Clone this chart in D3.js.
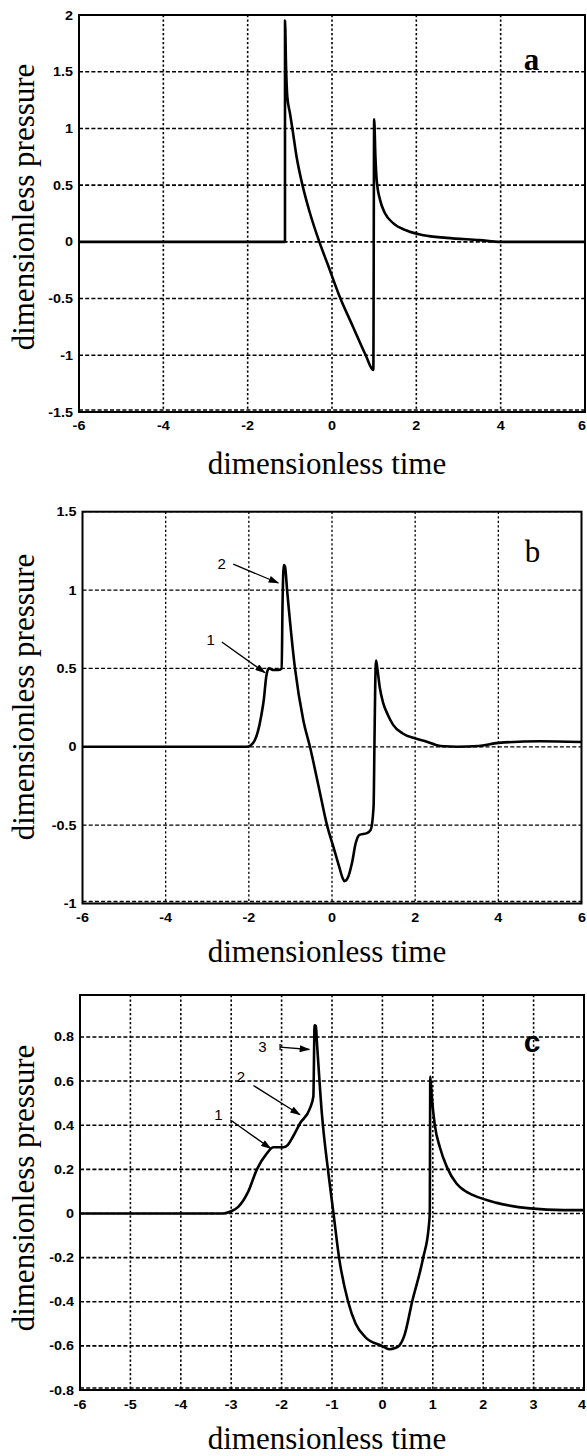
<!DOCTYPE html>
<html>
<head>
<meta charset="utf-8">
<script src="https://cdn.jsdelivr.net/npm/d3@7"></script>
<style>
  html, body { margin: 0; padding: 0; background: #fff; }
  svg { display: block; }
</style>
</head>
<body>
<script>
// ---------------- DATA ----------------
const aTime     = [-6, -1.115, -1.114, -1.09, -1.06, -1.0, -0.94, -0.84, -0.70, -0.52, -0.30, -0.1, 0.2, 0.5, 0.8, 0.98, 1.0, 1.03, 1.06, 1.14, 1.26, 1.45, 1.77, 2.17, 2.72, 3.5, 4.0, 6];
const aPressure = [0, 0, 1.95, 1.55, 1.28, 1.14, 1.0, 0.75, 0.5, 0.25, 0.0, -0.2, -0.5, -0.75, -1.0, -1.13, 1.08, 0.75, 0.545, 0.37, 0.25, 0.165, 0.1, 0.058, 0.035, 0.015, 0.0, 0];

const bTime     = [-6, -2.05, -1.95, -1.86, -1.78, -1.7, -1.64, -1.58, -1.52, -1.4, -1.3, -1.21, -1.19, -1.16, -1.13, -1.08, -0.89, -0.69, -0.53, -0.3, -0.12, 0.03, 0.17, 0.255, 0.30, 0.39, 0.48, 0.57, 0.66, 0.84, 0.93, 1.0, 1.02, 1.04, 1.06, 1.09, 1.15, 1.23, 1.35, 1.47, 1.70, 2.01, 2.28, 2.5, 2.7, 3.0, 3.53, 4.0, 5.0, 6.0];
const bPressure = [0, 0, 0.01, 0.04, 0.1, 0.2, 0.3, 0.45, 0.5, 0.49, 0.49, 0.5, 0.9, 1.16, 1.15, 1.0, 0.5, 0.17, 0.0, -0.28, -0.5, -0.636, -0.763, -0.837, -0.858, -0.83, -0.742, -0.615, -0.562, -0.551, -0.53, -0.381, 0.0, 0.4, 0.55, 0.5, 0.377, 0.28, 0.2, 0.14, 0.085, 0.053, 0.032, 0.012, 0.003, 0.0, 0.005, 0.025, 0.035, 0.03];

const cTime     = [-6, -3.16, -3.0, -2.86, -2.66, -2.49, -2.3, -2.16, -1.96, -1.88, -1.77, -1.63, -1.44, -1.37, -1.345, -1.32, -1.30, -1.20, -1.07, -0.97, -0.86, -0.68, -0.53, -0.34, -0.01, 0.14, 0.25, 0.33, 0.44, 0.59, 0.81, 0.92, 0.94, 0.95, 0.98, 1.04, 1.14, 1.28, 1.47, 1.62, 1.8, 2.27, 2.93, 3.59, 4.0];
const cPressure = [0, 0, 0.01, 0.03, 0.10, 0.20, 0.27, 0.30, 0.30, 0.31, 0.35, 0.41, 0.475, 0.53, 0.853, 0.85, 0.78, 0.45, 0.18, 0.0, -0.2, -0.4, -0.5, -0.56, -0.6, -0.615, -0.61, -0.6, -0.55, -0.4, -0.2, -0.06, 0.0, 0.62, 0.53, 0.40, 0.30, 0.21, 0.136, 0.105, 0.083, 0.048, 0.023, 0.015, 0.015];

const abXTicks      = [-6, -4, -2, 0, 2, 4, 6];
const abXTickLabels = ["-6", "-4", "-2", "0", "2", "4", "6"];
const aYTicks       = [-1.5, -1, -0.5, 0, 0.5, 1, 1.5, 2];
const aYTickLabels  = ["-1.5", "-1", "-0.5", "0", "0.5", "1", "1.5", "2"];
const bYTicks       = [-1, -0.5, 0, 0.5, 1, 1.5];
const bYTickLabels  = ["-1", "-0.5", "0", "0.5", "1", "1.5"];
const cXTicks       = [-6, -5, -4, -3, -2, -1, 0, 1, 2, 3, 4];
const cXTickLabels  = ["-6", "-5", "-4", "-3", "-2", "-1", "0", "1", "2", "3", "4"];
const cYTicks       = [-0.8, -0.6, -0.4, -0.2, 0, 0.2, 0.4, 0.6, 0.8];
const cYTickLabels  = ["-0.8", "-0.6", "-0.4", "-0.2", "0", "0.2", "0.4", "0.6", "0.8"];

const xTitle = "dimensionless time";
const yTitle = "dimensionless pressure";
const panelLetters = ["a", "b", "c"];
const bNoteLabels = ["2", "1"];
const cNoteLabels = ["3", "2", "1"];

// ---------------- DRAW ----------------
const W = 587, H = 1456;
const svg = d3.select("body").append("svg").attr("width", W).attr("height", H);
svg.append("rect").attr("width", W).attr("height", H).attr("fill", "#fff");

const defs = svg.append("defs");
defs.append("marker").attr("id", "arr").attr("viewBox", "0 0 12 8")
  .attr("refX", 11).attr("refY", 4).attr("markerWidth", 11).attr("markerHeight", 7)
  .attr("markerUnits", "userSpaceOnUse").attr("orient", "auto")
  .append("path").attr("d", "M0,0 L12,4 L0,8 Z").attr("fill", "#000");

const tickFont = "'Liberation Sans', Arial, sans-serif";
const serif = "'Liberation Serif', 'Times New Roman', serif";

function panel(p) {
  const x = d3.scaleLinear().domain(p.xDomain).range([p.left, p.right]);
  const y = d3.scaleLinear().domain(p.yDomain).range([p.bottom, p.top]);
  const g = svg.append("g");

  // grid
  g.selectAll(".vg").data(p.xTicks.slice(1, -1)).join("line")
    .attr("x1", d => x(d)).attr("x2", d => x(d))
    .attr("y1", p.top).attr("y2", p.bottom)
    .attr("stroke", "#000").attr("stroke-width", p.gridW)
    .attr("stroke-dasharray", "2.2,2.3");
  g.selectAll(".hg").data(p.yTicks).join("line")
    .attr("x1", p.left).attr("x2", p.right)
    .attr("y1", d => y(d) + (d === p.yDomain[0] ? -2 : 0))
    .attr("y2", d => y(d) + (d === p.yDomain[0] ? -2 : 0))
    .attr("stroke", "#000").attr("stroke-width", p.gridW)
    .attr("stroke-dasharray", "4,2.2");

  // curve
  const pts = p.time.map((t, i) => [t, p.pressure[i]]);
  g.append("path").datum(pts)
    .attr("d", d3.line().x(d => x(d[0])).y(d => y(d[1])).curve(d3.curveMonotoneX))
    .attr("fill", "none").attr("stroke", "#000").attr("stroke-width", 2.6)
    .attr("stroke-linejoin", "round");

  // box
  g.append("rect").attr("x", p.left).attr("y", p.top)
    .attr("width", p.right - p.left).attr("height", p.bottom - p.top)
    .attr("fill", "none").attr("stroke", "#000").attr("stroke-width", 2);

  // tick labels (slightly widened bold sans, like the original)
  const nX = p.xTicks.length;
  g.selectAll(".xl").data(p.xTicks).join("text")
    .attr("transform", (d, i) => {
      const px = i === nX - 1 ? W - 1 : x(d);
      return `translate(${px},${p.bottom + p.xLabOff}) scale(1.15,1)`;
    })
    .attr("text-anchor", (d, i) => i === nX - 1 ? "end" : "middle")
    .attr("font-family", tickFont)
    .attr("font-weight", "bold").attr("font-size", 12.5)
    .text((d, i) => p.xTickLabels[i]);
  g.selectAll(".yl").data(p.yTicks).join("text")
    .attr("transform", d => `translate(${p.left - 6},${y(d)}) scale(1.15,1)`)
    .attr("dy", "0.36em")
    .attr("text-anchor", "end").attr("font-family", tickFont)
    .attr("font-weight", "bold").attr("font-size", 12.5)
    .text((d, i) => p.yTickLabels[i]);

  // axis titles
  g.append("text").attr("x", 327).attr("y", p.xTitleY)
    .attr("text-anchor", "middle").attr("font-family", serif).attr("font-size", 31)
    .text(xTitle);
  g.append("text").attr("transform", `translate(34,${p.yTitleC}) rotate(-90)`)
    .attr("text-anchor", "middle").attr("font-family", serif).attr("font-size", 31)
    .text(yTitle);

  // panel letter
  g.append("text").attr("x", x(p.letterPos[0])).attr("y", y(p.letterPos[1]))
    .attr("text-anchor", "middle").attr("font-family", p.letterFont || serif)
    .attr("font-weight", p.letterWeight).attr("font-size", p.letterSize)
    .text(p.letter);

  // annotations
  (p.notes || []).forEach(n => {
    g.append("text").attr("x", x(n.lab[0])).attr("y", y(n.lab[1]))
      .attr("text-anchor", "end").attr("font-family", tickFont).attr("font-size", 15)
      .text(n.text);
    g.append("line").attr("x1", x(n.from[0])).attr("y1", y(n.from[1]))
      .attr("x2", x(n.to[0])).attr("y2", y(n.to[1]))
      .attr("stroke", "#000").attr("stroke-width", 1.3).attr("marker-end", "url(#arr)");
    if (n.bar) {
      g.append("line").attr("x1", x(n.from[0])).attr("x2", x(n.from[0]))
        .attr("y1", y(n.from[1]) - 3).attr("y2", y(n.from[1]) + 3)
        .attr("stroke", "#000").attr("stroke-width", 1.3);
    }
  });
}

panel({
  left: 79, right: 585, top: 15, bottom: 412, gridW: 1.6,
  xDomain: [-6, 6], yDomain: [-1.5, 2],
  xTicks: abXTicks, xTickLabels: abXTickLabels, yTicks: aYTicks, yTickLabels: aYTickLabels,
  time: aTime, pressure: aPressure,
  xLabOff: 18, xTitleY: 474, yTitleC: 207,
  letter: panelLetters[0], letterPos: [4.73, 1.515], letterWeight: "bold", letterSize: 31
});

panel({
  left: 82.5, right: 581.5, top: 511.7, bottom: 903.5, gridW: 1.3,
  xDomain: [-6, 6], yDomain: [-1, 1.5],
  xTicks: abXTicks, xTickLabels: abXTickLabels, yTicks: bYTicks, yTickLabels: bYTickLabels,
  time: bTime, pressure: bPressure,
  xLabOff: 18, xTitleY: 962, yTitleC: 697,
  letter: panelLetters[1], letterPos: [4.82, 1.18], letterWeight: "normal", letterSize: 31,
  notes: [
    { text: bNoteLabels[0], lab: [-2.55, 1.136], from: [-2.375, 1.165], to: [-1.29, 1.045] },
    { text: bNoteLabels[1], lab: [-2.815, 0.648], from: [-2.65, 0.669], to: [-1.61, 0.472] }
  ]
});

panel({
  left: 80, right: 584, top: 995, bottom: 1390, gridW: 1.6,
  xDomain: [-6, 4], yDomain: [-0.8, 0.99],
  xTicks: cXTicks, xTickLabels: cXTickLabels, yTicks: cYTicks, yTickLabels: cYTickLabels,
  time: cTime, pressure: cPressure,
  xLabOff: 19, xTitleY: 1449, yTitleC: 1188,
  letter: panelLetters[2], letterPos: [2.97, 0.731], letterWeight: "bold", letterSize: 30,
  letterFont: tickFont,
  notes: [
    { text: cNoteLabels[0], lab: [-2.30, 0.731], from: [-2.03, 0.754], to: [-1.45, 0.743], bar: true },
    { text: cNoteLabels[1], lab: [-2.726, 0.595], from: [-2.56, 0.58], to: [-1.635, 0.4475] },
    { text: cNoteLabels[2], lab: [-3.17, 0.422], from: [-3.02, 0.425], to: [-2.216, 0.294] }
  ]
});
</script>
</body>
</html>
